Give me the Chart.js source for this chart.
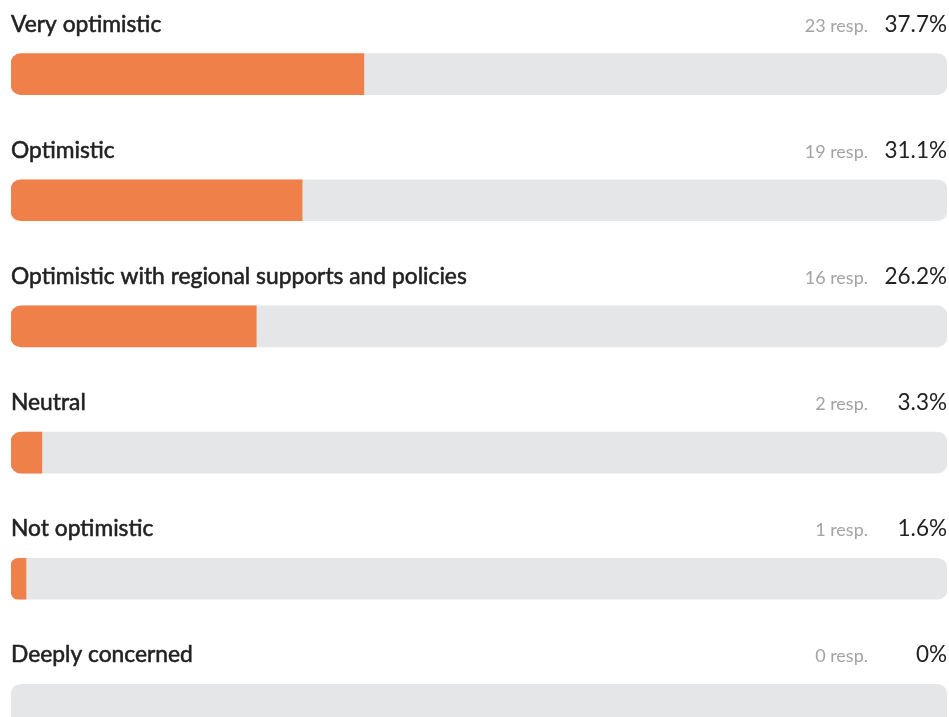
<!DOCTYPE html>
<html>
<head>
<meta charset="utf-8">
<script src="https://cdn.jsdelivr.net/npm/chart.js@4"></script>
<style>
  html, body { margin: 0; padding: 0; background: #fff; overflow: hidden; }
  .wrap { width: 949px; height: 717px; overflow: hidden; position: relative; }
  canvas { display: block; }
</style>
</head>
<body>
<div class="wrap"><canvas id="survey" width="949" height="768"></canvas></div>
<script>
// ── Data ─────────────────────────────────────────────
const answers = [
  'Very optimistic',
  'Optimistic',
  'Optimistic with regional supports and policies',
  'Neutral',
  'Not optimistic',
  'Deeply concerned',
];
const responses = [23, 19, 16, 2, 1, 0];
const shares = [37.7, 31.1, 26.2, 3.3, 1.6, 0];
const trackValues = [100, 100, 100, 100, 100, 100];

const ORANGE = '#f0804a';
const TRACK = '#e5e6e8';

// Label row above each bar: answer on the left, count + share on the right
const rowLabels = {
  id: 'rowLabels',
  afterDatasetsDraw(chart) {
    const { ctx, chartArea } = chart;
    const meta = chart.getDatasetMeta(1);
    ctx.save();
    ctx.textBaseline = 'alphabetic';
    meta.data.forEach((bar, i) => {
      const top = bar.y - bar.height / 2;
      const base = top - 22;

      // answer text, slightly heavier than regular
      ctx.fillStyle = '#222';
      ctx.strokeStyle = '#222';
      ctx.lineWidth = 0.55;
      ctx.font = '400 22.8px Lato, "Open Sans", sans-serif';
      ctx.textAlign = 'left';
      ctx.fillText(answers[i], chartArea.left, base);
      ctx.strokeText(answers[i], chartArea.left, base);

      ctx.textAlign = 'right';
      ctx.font = '400 22.5px Lato, "Open Sans", sans-serif';
      ctx.fillStyle = '#222';
      ctx.fillText(shares[i] + '%', chartArea.right, base);

      ctx.font = '400 18px Lato, "Open Sans", sans-serif';
      ctx.fillStyle = '#a3a3a3';
      ctx.fillText(responses[i] + ' resp.', chartArea.right - 79, base);
    });
    ctx.restore();
  },
};

new Chart(document.getElementById('survey'), {
  type: 'bar',
  data: {
    labels: answers,
    datasets: [
      {
        label: 'Share',
        data: shares,
        backgroundColor: c => (c.raw > 0 ? ORANGE : 'rgba(0,0,0,0)'),
        borderRadius: { topLeft: 10, bottomLeft: 10, topRight: 0, bottomRight: 0 },
        borderSkipped: false,
        barThickness: 41,
        grouped: false,
        order: 0,
      },
      {
        label: 'Track',
        data: trackValues,
        backgroundColor: TRACK,
        borderRadius: 10,
        borderSkipped: false,
        barThickness: 41,
        grouped: false,
        order: 1,
      },
    ],
  },
  plugins: [rowLabels],
  options: {
    indexAxis: 'y',
    responsive: false,
    devicePixelRatio: 1,
    animation: false,
    layout: { padding: { left: 11, right: 2, top: 11, bottom: 0 } },
    scales: {
      x: { min: 0, max: 100, display: false },
      y: { display: false },
    },
    plugins: {
      legend: { display: false },
      tooltip: { enabled: false },
    },
  },
});
</script>
</body>
</html>
